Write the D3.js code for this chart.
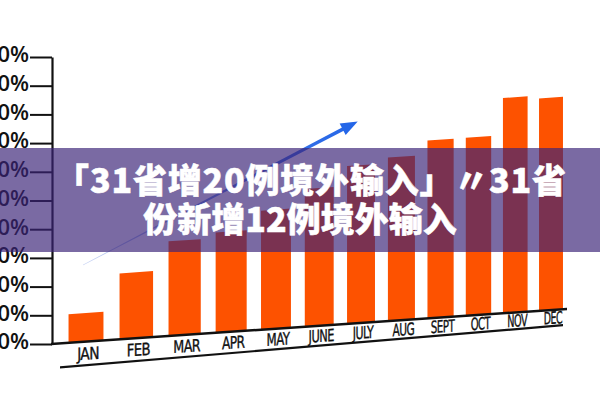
<!DOCTYPE html>
<html>
<head>
<meta charset="utf-8">
<script src="https://cdn.jsdelivr.net/npm/d3@7"></script>
<style>
  html, body { margin: 0; padding: 0; background: #fff; }
  #chart { width: 600px; height: 400px; overflow: hidden; }
</style>
</head>
<body>
<div id="chart"></div>
<script>
// data
const months = ["JAN", "FEB", "MAR", "APR", "MAY", "JUNE", "JULY", "AUG", "SEPT", "OCT", "NOV", "DEC"];
const values = [10, 23, 33, 35, 41.5, 48, 55, 57, 62, 62, 75, 74];
const yTicks = [0, 10, 20, 30, 40, 50, 60, 70, 80, 90, 100];
const titleLines = ["「31省增20例境外输入」〃31省", "份新增12例境外输入"];

const width = 600, height = 400;
const axisX = 52, baseY = 344;
const skew = -3.9; // the photo leans, baseline rises to the right

const svg = d3.select("#chart")
  .append("svg")
  .attr("width", width)
  .attr("height", height)
  .attr("viewBox", [0, 0, width, height]);

const y = d3.scaleLinear().domain([0, 100]).range([baseY, 57]);

// log scale gives the perspective squeeze towards the right
const xPos = d3.scaleLog().domain([24, 35]).range([86, 551]);
const cx = i => xPos(i + 24);
const step = i => xPos(i + 24.5) - xPos(i + 23.5);

const defs = svg.append("defs");
const grad = defs.append("linearGradient")
  .attr("id", "arrowGrad")
  .attr("gradientUnits", "userSpaceOnUse")
  .attr("x1", 0).attr("x2", 309).attr("y1", 0).attr("y2", 0);
grad.append("stop").attr("offset", "0%").attr("stop-color", "#8fa6e8").attr("stop-opacity", 0.5);
grad.append("stop").attr("offset", "60%").attr("stop-color", "#3f75e6");
grad.append("stop").attr("offset", "100%").attr("stop-color", "#2466e8");

// y axis
const yAxis = svg.append("g")
  .attr("transform", `translate(${axisX},0)`)
  .call(d3.axisLeft(y)
    .tickValues(yTicks)
    .tickSize(22)
    .tickSizeOuter(0)
    .tickPadding(1)
    .tickFormat(d => d + "%"));

yAxis.select(".domain").attr("stroke", "#111").attr("stroke-width", 2.2);
yAxis.selectAll(".tick line").attr("stroke", "#111").attr("stroke-width", 2);
yAxis.selectAll(".tick text")
  .attr("fill", "#111")
  .attr("dy", "0.22em")
  .style("font-family", "'Open Sans', 'DejaVu Sans', sans-serif")
  .style("font-weight", 600)
  .style("font-size", "22px");

// leaning plot area
const plot = svg.append("g")
  .attr("transform", `translate(${axisX},${baseY}) skewY(${skew})`);

plot.selectAll("rect.bar")
  .data(values)
  .join("rect")
  .attr("class", "bar")
  .attr("fill", "#fd5200")
  .attr("x", (d, i) => cx(i) - axisX - step(i) * 0.34)
  .attr("width", (d, i) => step(i) * 0.68)
  .attr("y", d => y(d) - baseY)
  .attr("height", d => baseY - y(d));

plot.append("line")
  .attr("x1", -1).attr("x2", cx(11) - axisX + 16)
  .attr("y1", 0).attr("y2", 0)
  .attr("stroke", "#111").attr("stroke-width", 2.5);

plot.append("line")
  .attr("x1", 8).attr("x2", cx(11) - axisX + 12)
  .attr("y1", 24).attr("y2", 16)
  .attr("stroke", "#111").attr("stroke-width", 2.2);

// month labels shrink with the perspective
plot.selectAll("text.month")
  .data(months)
  .join("text")
  .attr("class", "month")
  .attr("transform", (d, i) => `translate(${cx(i) - axisX + 2},${18 - 4 * i / 11}) scale(${0.9 * step(i) / step(0)},1)`)
  .attr("text-anchor", "middle")
  .attr("fill", "#111")
  .attr("stroke", "#111")
  .attr("stroke-width", 0.35)
  .style("font-family", "'Liberation Sans Narrow', 'DejaVu Sans Condensed', sans-serif")
  .style("font-size", "17px")
  .style("letter-spacing", "-0.7px")
  .text(d => d);

// trend arrow
const arrow = svg.append("g")
  .attr("transform", "translate(83,265) rotate(-27.6)");
arrow.append("path")
  .attr("d", "M0,-0.3 L296,-1.9 L296,1.9 L0,0.3 Z")
  .attr("fill", "url(#arrowGrad)");
arrow.append("path")
  .attr("d", "M293,-6.5 L310,0 L293,6.5 Z")
  .attr("fill", "#2466e8");

// title banner
svg.append("rect")
  .attr("x", 0).attr("y", 148)
  .attr("width", width).attr("height", 104)
  .attr("fill", "rgba(59,36,120,0.68)");

const titleX = [311, 300];
const titleY = [193, 232];
const titleSpacing = [0.8, 0];
svg.selectAll("text.title")
  .data(titleLines)
  .join("text")
  .attr("class", "title")
  .attr("x", (d, i) => titleX[i])
  .attr("y", (d, i) => titleY[i])
  .attr("text-anchor", "middle")
  .attr("fill", "#fff")
  .attr("stroke", "#fff")
  .attr("stroke-width", 0.5)
  .attr("stroke-linejoin", "round")
  .style("font-family", "'Noto Sans CJK SC', sans-serif")
  .style("font-weight", 900)
  .style("font-size", "34px")
  .style("letter-spacing", (d, i) => titleSpacing[i] + "px")
  .text(d => d);
</script>
</body>
</html>
